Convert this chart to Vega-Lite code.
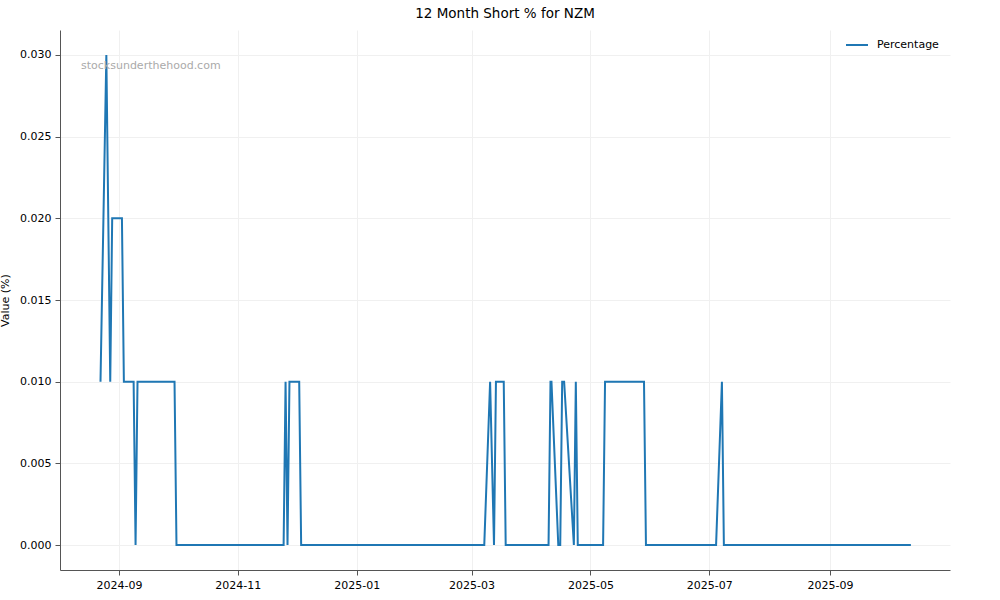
{
  "$schema": "https://vega.github.io/schema/vega-lite/v6.json",
  "width": 890,
  "height": 540,
  "autosize": {"type": "none"},
  "padding": {"left": 60, "top": 30, "right": 50, "bottom": 30},
  "background": "white",
  "title": {"text": "12 Month Short % for NZM", "font": "DejaVu Sans", "fontSize": 13.5, "fontWeight": "normal", "color": "#000000", "offset": 10},
  "config": {
    "view": {"stroke": null},
    "font": "DejaVu Sans"
  },
  "datasets": {
    "short": [
      {"date": "2024-08-22T12:00:00Z", "value": 0.01},
      {"date": "2024-08-25T12:00:00Z", "value": 0.03},
      {"date": "2024-08-27T12:00:00Z", "value": 0.01},
      {"date": "2024-08-28T12:00:00Z", "value": 0.02},
      {"date": "2024-09-02T12:00:00Z", "value": 0.02},
      {"date": "2024-09-03T12:00:00Z", "value": 0.01},
      {"date": "2024-09-08T12:00:00Z", "value": 0.01},
      {"date": "2024-09-09T12:00:00Z", "value": 0.0},
      {"date": "2024-09-10T12:00:00Z", "value": 0.01},
      {"date": "2024-09-29T12:00:00Z", "value": 0.01},
      {"date": "2024-09-30T12:00:00Z", "value": 0.0},
      {"date": "2024-11-24T12:00:00Z", "value": 0.0},
      {"date": "2024-11-25T12:00:00Z", "value": 0.01},
      {"date": "2024-11-26T12:00:00Z", "value": 0.0},
      {"date": "2024-11-27T12:00:00Z", "value": 0.01},
      {"date": "2024-12-02T12:00:00Z", "value": 0.01},
      {"date": "2024-12-03T12:00:00Z", "value": 0.0},
      {"date": "2025-03-07T12:00:00Z", "value": 0.0},
      {"date": "2025-03-10T12:00:00Z", "value": 0.01},
      {"date": "2025-03-12T12:00:00Z", "value": 0.0},
      {"date": "2025-03-13T12:00:00Z", "value": 0.01},
      {"date": "2025-03-17T12:00:00Z", "value": 0.01},
      {"date": "2025-03-18T12:00:00Z", "value": 0.0},
      {"date": "2025-04-09T12:00:00Z", "value": 0.0},
      {"date": "2025-04-10T12:00:00Z", "value": 0.01},
      {"date": "2025-04-11T00:00:00Z", "value": 0.01},
      {"date": "2025-04-14T12:00:00Z", "value": 0.0},
      {"date": "2025-04-15T12:00:00Z", "value": 0.0},
      {"date": "2025-04-16T12:00:00Z", "value": 0.01},
      {"date": "2025-04-17T12:00:00Z", "value": 0.01},
      {"date": "2025-04-22T12:00:00Z", "value": 0.0},
      {"date": "2025-04-23T12:00:00Z", "value": 0.01},
      {"date": "2025-04-24T12:00:00Z", "value": 0.0},
      {"date": "2025-05-07T12:00:00Z", "value": 0.0},
      {"date": "2025-05-08T12:00:00Z", "value": 0.01},
      {"date": "2025-05-28T12:00:00Z", "value": 0.01},
      {"date": "2025-05-29T12:00:00Z", "value": 0.0},
      {"date": "2025-07-04T12:00:00Z", "value": 0.0},
      {"date": "2025-07-07T12:00:00Z", "value": 0.01},
      {"date": "2025-07-08T12:00:00Z", "value": 0.0},
      {"date": "2025-10-12T12:00:00Z", "value": 0.0}
    ],
    "mark": [
      {"date": "2024-08-12T12:00:00Z", "value": 0.02933, "label": "stocksunderthehood.com"}
    ]
  },
  "layer": [
    {
      "data": {"name": "short"},
      "mark": {"type": "line", "strokeWidth": 2, "interpolate": "linear"},
      "encoding": {
        "x": {
          "field": "date", "type": "temporal",
          "scale": {"type": "utc", "domain": [{"year": 2024, "month": 8, "date": 1, "hours": 17, "utc": true}, {"year": 2025, "month": 11, "date": 1, "hours": 14, "utc": true}]},
          "axis": {
            "title": null,
            "format": "%Y-%m",
            "values": [
              {"year": 2024, "month": 9, "date": 1, "utc": true},
              {"year": 2024, "month": 11, "date": 1, "utc": true},
              {"year": 2025, "month": 1, "date": 1, "utc": true},
              {"year": 2025, "month": 3, "date": 1, "utc": true},
              {"year": 2025, "month": 5, "date": 1, "utc": true},
              {"year": 2025, "month": 7, "date": 1, "utc": true},
              {"year": 2025, "month": 9, "date": 1, "utc": true}
            ],
            "labelFont": "DejaVu Sans", "labelFontSize": 11, "labelColor": "#000000", "labelPadding": 4,
            "domainColor": "#555555", "tickColor": "#555555", "tickSize": 5,
            "grid": true, "gridColor": "#f0f0f0", "labelFlush": false, "labelOverlap": false
          }
        },
        "y": {
          "field": "value", "type": "quantitative",
          "scale": {"domain": [-0.00153, 0.03153], "nice": false, "zero": false},
          "axis": {
            "title": "Value (%)",
            "values": [0, 0.005, 0.01, 0.015, 0.02, 0.025, 0.03],
            "format": ".3f",
            "labelFont": "DejaVu Sans", "labelFontSize": 11, "labelColor": "#000000", "labelPadding": 4,
            "titleFont": "DejaVu Sans", "titleFontSize": 11, "titleFontWeight": "normal", "titleColor": "#000000",
            "titleX": -55, "titleY": 270, "titleAngle": 270, "titleAlign": "center", "titleBaseline": "middle",
            "domainColor": "#555555", "tickColor": "#555555", "tickSize": 5,
            "grid": true, "gridColor": "#f0f0f0"
          }
        },
        "color": {
          "datum": "Percentage",
          "scale": {"range": ["#1f77b4"]},
          "legend": {
            "title": null, "orient": "none", "legendX": 785, "legendY": 3,
            "symbolType": "stroke", "symbolSize": 484, "symbolStrokeWidth": 2,
            "labelFont": "DejaVu Sans", "labelFontSize": 11, "labelColor": "#000000", "labelOffset": 8
          }
        }
      }
    },
    {
      "data": {"name": "mark"},
      "mark": {"type": "text", "align": "left", "baseline": "middle", "font": "DejaVu Sans", "fontSize": 11, "color": "#aaaaaa"},
      "encoding": {
        "x": {"field": "date", "type": "temporal"},
        "y": {"field": "value", "type": "quantitative"},
        "text": {"field": "label"}
      }
    }
  ]
}
